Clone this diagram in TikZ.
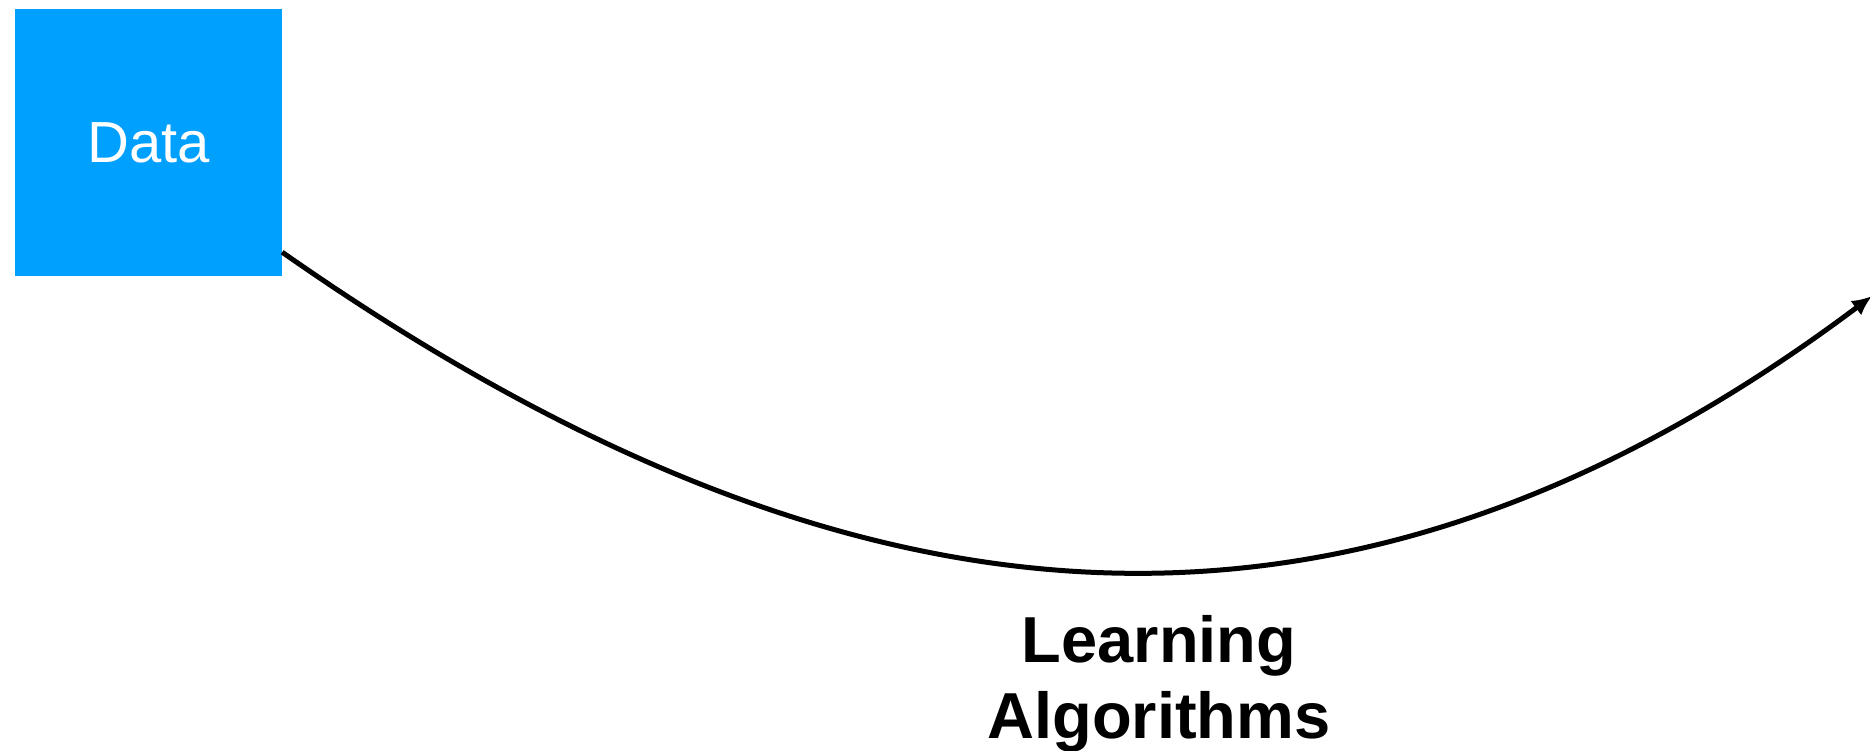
\documentclass[tikz,border=0pt]{standalone}
\usepackage{fontspec}
\setmainfont{Liberation Sans}
\usetikzlibrary{arrows.meta}
\definecolor{databox}{RGB}{0,160,255}
\tikzset{
  box/.style={fill=databox, draw=none, minimum width=267pt, minimum height=267pt,
    inner sep=0pt, text=white, font=\fontsize{58}{70}\selectfont},
  flow/.style={line width=5pt, -{Latex[length=20pt,width=18pt]}},
  caption/.style={align=center, font=\bfseries\fontsize{65}{76}\selectfont, inner sep=0pt}
}
\begin{document}
\begin{tikzpicture}[x=1pt, y=-1pt]
  \useasboundingbox (0,0) rectangle (1870,751);
  \node[box] (data) at (148.5,142.5) {Data};
  \coordinate (tip) at (1872,296);
  \draw[flow] ([yshift=24pt]data.south east)
    .. controls (842,644) and (1340,695) .. (tip);
  % the base anchor of a two-line node sits on the last line
  \node[caption, anchor=base] (algo) at (1159,738) {Learning\\Algorithms};
\end{tikzpicture}
\end{document}
